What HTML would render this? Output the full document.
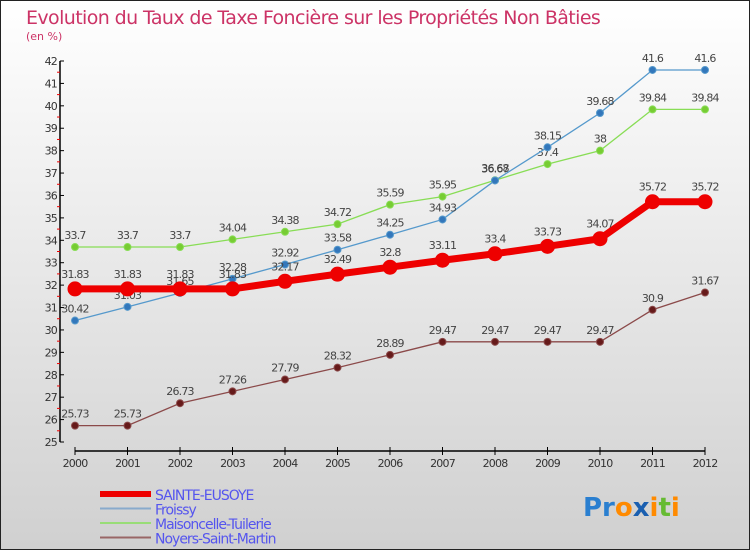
<!DOCTYPE html>
<html><head><meta charset="utf-8"><style>
body{margin:0;width:750px;height:550px;overflow:hidden;font-family:"DejaVu Sans","Liberation Sans",sans-serif;}
svg text{font-family:"DejaVu Sans","Liberation Sans",sans-serif;}
</style></head><body>
<svg id="chart" width="750" height="550" xmlns="http://www.w3.org/2000/svg">
<defs><linearGradient id="bg" x1="0" y1="0" x2="0" y2="1"><stop offset="0" stop-color="#ffffff"/><stop offset="1" stop-color="#d0d0d0"/></linearGradient></defs>
<rect x="0.5" y="0.5" width="749" height="549" fill="url(#bg)" stroke="#222"/>
<text x="26" y="24" font-size="19" fill="#cc3366" letter-spacing="-0.6">Evolution du Taux de Taxe Foncière sur les Propriétés Non Bâties</text>
<text x="26" y="40" font-size="11" fill="#cc3366">(en %)</text>
<g id="axes"></g><g id="series"></g><g id="legend"></g>
<text x="583" y="516" font-size="26" font-weight="bold"><tspan fill="#2a7fd0">Pr</tspan><tspan fill="#ff8a00">o</tspan><tspan fill="#1a5fb0">x</tspan><tspan fill="#ff8a00">i</tspan><tspan fill="#66bb33">t</tspan><tspan fill="#ff8a00">i</tspan></text>
</svg>
<script>
const years=[2000,2001,2002,2003,2004,2005,2006,2007,2008,2009,2010,2011,2012];
const yTicks=[25,26,27,28,29,30,31,32,33,34,35,36,37,38,39,40,41,42];
const sainte=[31.83,31.83,31.83,31.83,32.17,32.49,32.8,33.11,33.4,33.73,34.07,35.72,35.72];
const froissy=[30.42,31.03,31.65,32.28,32.92,33.58,34.25,34.93,36.67,38.15,39.68,41.6,41.6];
const maison=[33.7,33.7,33.7,34.04,34.38,34.72,35.59,35.95,36.68,37.4,38,39.84,39.84];
const noyers=[25.73,25.73,26.73,27.26,27.79,28.32,28.89,29.47,29.47,29.47,29.47,30.9,31.67];
const NS="http://www.w3.org/2000/svg";
const X=i=>75+i*(705-75)/12;
const Y=v=>61+(42-v)*(442-61)/17;
function mk(t,a,p){const e=document.createElementNS(NS,t);for(const k in a)e.setAttribute(k,a[k]);p.appendChild(e);return e;}
const ax=document.getElementById('axes');
let l=mk('line',{x1:60,y1:Y(42),x2:60,y2:Y(25),stroke:'#000','stroke-width':1.5},ax);

l=mk('line',{x1:75,y1:451,x2:705,y2:451,stroke:'#000','stroke-width':1.5},ax);

yTicks.forEach(v=>{
 mk('line',{x1:60,y1:Y(v),x2:64,y2:Y(v),stroke:'#000'},ax);
 if(v<42)mk('line',{x1:57,y1:Y(v+0.5),x2:60,y2:Y(v+0.5),stroke:'#e00'},ax);
 const t=mk('text',{x:57,y:Y(v)+4,'font-size':11,'text-anchor':'end',fill:'#333','letter-spacing':'-0.8'},ax);
 t.textContent=v;
});
years.forEach((y,i)=>{
 mk('line',{x1:X(i),y1:447,x2:X(i),y2:455,stroke:'#000'},ax);
 const t=mk('text',{x:X(i),y:467,'font-size':11,'text-anchor':'middle',fill:'#333','letter-spacing':'-0.8'},ax);
 t.textContent=y;
});
const sg=document.getElementById('series');
function draw(name,vals,col,w,r,dot,lab){
 const g=mk('g',{},sg);
 const p=mk('polyline',{points:vals.map((v,i)=>X(i)+','+Y(v)).join(' '),fill:'none',stroke:col,'stroke-width':w},g);
 
 vals.forEach((v,i)=>{
  const c=mk('circle',{cx:X(i),cy:Y(v),r:r,fill:dot,stroke:col,'stroke-width':1},g);
  
  const t=mk('text',{x:X(i),y:Y(v)-lab,'font-size':11,'text-anchor':'middle',fill:'#444','letter-spacing':'-0.8'},g);
  t.textContent=v;
 });
}
draw('noyers-series',noyers,'#8b4a4a',1.3,3.5,'#661a1a',8);
draw('maisoncelle-series',maison,'#88dd55',1.3,3.5,'#77cc33',8);
draw('froissy-series',froissy,'#5599cc',1.3,3.5,'#3377bb',8);
draw('sainte-eusoye-series',sainte,'#ee0000',7,7,'#ee0000',11);
const lg=document.getElementById('legend');
const items=[['SAINTE-EUSOYE','#ee0000',6],['Froissy','#88aacc',2],['Maisoncelle-Tuilerie','#99dd77',2],['Noyers-Saint-Martin','#996666',2]];
items.forEach((it,i)=>{
 const y=494+i*14.5;
 const g=mk('g',{},lg);
 mk('line',{x1:100,y1:y,x2:151,y2:y,stroke:it[1],'stroke-width':it[2]},g);
 const t=mk('text',{x:155,y:y+6,'font-size':14,fill:'#5555ee','letter-spacing':'-1'},g);t.textContent=it[0];
});
</script>
</body></html>
